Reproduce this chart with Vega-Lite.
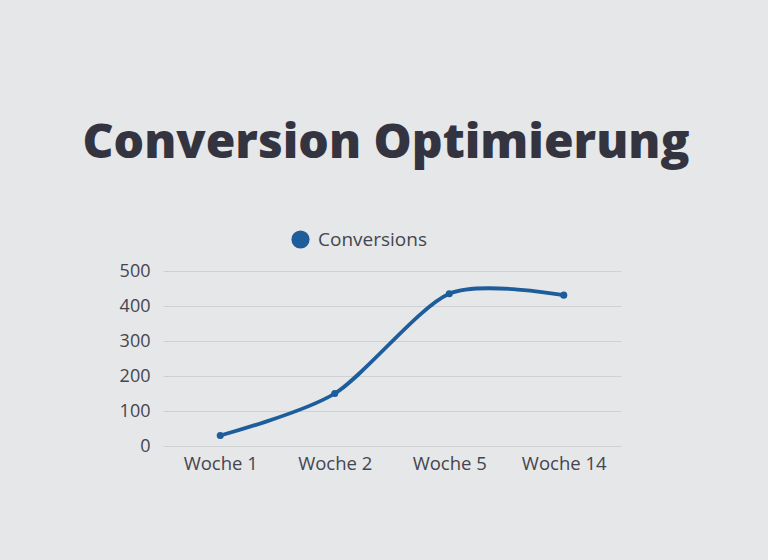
{
  "$schema": "https://vega.github.io/schema/vega-lite/v6.json",
  "width": 458,
  "height": 175,
  "autosize": {"type": "none"},
  "padding": {"left": 163, "top": 271, "right": 147, "bottom": 114},
  "background": "#e6e7e8",
  "title": {
    "text": "Conversion Optimierung",
    "font": "Open Sans",
    "fontSize": 48,
    "fontWeight": 800,
    "color": "#33343f",
    "anchor": "middle",
    "dx": -6,
    "offset": 62
  },
  "data": {
    "values": [
      {"week": "Woche 1", "value": 30, "series": "Conversions"},
      {"week": "Woche 2", "value": 150, "series": "Conversions"},
      {"week": "Woche 5", "value": 435, "series": "Conversions"},
      {"week": "Woche 14", "value": 431, "series": "Conversions"}
    ]
  },
  "encoding": {
    "x": {
      "field": "week",
      "type": "ordinal",
      "sort": null,
      "scale": {"type": "point", "padding": 0.5},
      "axis": {
        "title": null,
        "labelAngle": 0,
        "ticks": false,
        "domain": false,
        "grid": false,
        "labelFont": "Open Sans",
        "labelFontSize": 18.5,
        "labelColor": "#45454f",
        "labelPadding": 8
      }
    },
    "y": {
      "field": "value",
      "type": "quantitative",
      "scale": {"domain": [0, 500]},
      "axis": {
        "title": null,
        "values": [0, 100, 200, 300, 400, 500],
        "ticks": false,
        "domain": false,
        "gridColor": "#cfd0d2",
        "gridWidth": 1,
        "labelFont": "Open Sans",
        "labelFontSize": 18,
        "labelColor": "#45454f",
        "labelPadding": 13
      }
    },
    "color": {
      "field": "series",
      "type": "nominal",
      "scale": {"range": ["#1d5d9c"]},
      "legend": {
        "title": null,
        "orient": "none",
        "legendX": 128,
        "legendY": -41,
        "symbolType": "circle",
        "symbolSize": 330,
        "symbolStrokeWidth": 0,
        "labelFont": "Open Sans",
        "labelFontSize": 19,
        "labelColor": "#45454f",
        "labelOffset": 8
      }
    }
  },
  "layer": [
    {
      "mark": {"type": "line", "interpolate": "cardinal", "tension": 0.2, "strokeWidth": 3.8}
    },
    {
      "mark": {"type": "point", "filled": true, "size": 50, "opacity": 1}
    }
  ],
  "config": {"view": {"stroke": null}}
}
